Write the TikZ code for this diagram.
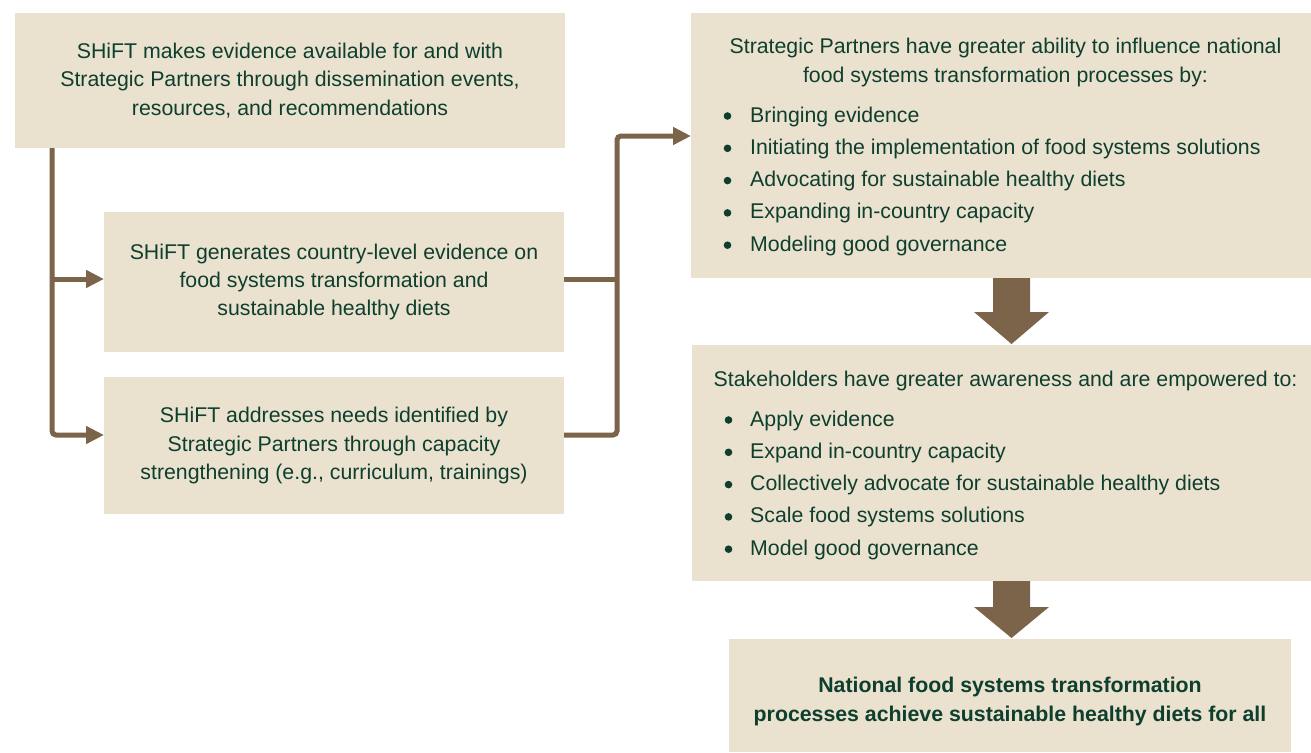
\documentclass[tikz,border=0pt]{standalone}
\usepackage{fontspec}
\setmainfont{Liberation Sans}
\usetikzlibrary{arrows.meta}
\definecolor{boxfill}{HTML}{EBE1CF}
\definecolor{ink}{HTML}{0E3F2E}
\definecolor{arrowbrown}{HTML}{7B6449}
\begin{document}
\begin{tikzpicture}[x=1pt,y=-1pt,
  font=\fontsize{21.3pt}{28.3pt}\selectfont,
  panel/.style={rectangle, fill=boxfill, anchor=north west, inner sep=0pt,
    outer sep=0pt, text=ink, align=center},
  textline/.style={anchor=base, text=ink, inner sep=0pt},
  item/.style={anchor=base west, text=ink, inner sep=0pt},
  dot/.style={circle, fill=ink, inner sep=0pt, minimum size=7.6pt},
  conn/.style={draw=arrowbrown, line width=5pt, rounded corners=4pt},
  tip/.style={-{Triangle[length=18pt,width=17pt]}},
  bigarrow/.style={fill=arrowbrown}
]
\useasboundingbox (0,0) rectangle (1311,752);

% --- boxes on the left ---
\node[panel, minimum width=550pt, minimum height=135pt] (A) at (15,13)
  {SHiFT makes evidence available for and with\\Strategic Partners through dissemination events,\\resources, and recommendations};
\node[panel, minimum width=460pt, minimum height=140pt] (B) at (104,212)
  {SHiFT generates country-level evidence on\\food systems transformation and\\sustainable healthy diets};
\node[panel, minimum width=460pt, minimum height=137pt] (C) at (104,377)
  {SHiFT addresses needs identified by\\Strategic Partners through capacity\\strengthening (e.g., curriculum, trainings)};

% --- boxes on the right ---
\node[panel, minimum width=620pt, minimum height=265pt] (D) at (691,13) {};
\node[panel, minimum width=619pt, minimum height=236pt] (E) at (692,345) {};
\node[panel, minimum width=562pt, minimum height=113pt] (F) at (729,639) {};

% partner outcomes
\node[textline] (d1) at (1005.5,53) {Strategic Partners have greater ability to influence national};
\node[textline] (d2) at (1005.5,82) {food systems transformation processes by:};
\foreach \t [count=\i] in {Bringing evidence,
    Initiating the implementation of food systems solutions,
    Advocating for sustainable healthy diets,
    Expanding in-country capacity,
    Modeling good governance}{
  \node[dot] (db\i) at (727.5,{116+32.3*(\i-1)}) {};
  \node[item] (dt\i) at (750,{122+32.3*(\i-1)}) {\t};
}

% stakeholder outcomes
\node[textline] (e1) at (1005.5,386) {Stakeholders have greater awareness and are empowered to:};
\foreach \t [count=\i] in {Apply evidence,
    Expand in-country capacity,
    Collectively advocate for sustainable healthy diets,
    Scale food systems solutions,
    Model good governance}{
  \node[dot] (eb\i) at (728.5,{420+32.3*(\i-1)}) {};
  \node[item] (et\i) at (750,{426+32.3*(\i-1)}) {\t};
}

% final goal
\node[textline, font=\fontsize{21.3pt}{28.3pt}\selectfont\bfseries] (f1) at (1010,692)
  {National food systems transformation};
\node[textline, font=\fontsize{21.3pt}{28.3pt}\selectfont\bfseries] (f2) at (1010,721)
  {processes achieve sustainable healthy diets for all};

% --- connectors ---
\coordinate (trunk) at ([xshift=37pt]A.south west);
\coordinate (bIn) at ([yshift=3pt]B.west);
\coordinate (cIn) at ([yshift=10.5pt]C.west);
\coordinate (bOut) at ([yshift=3pt]B.east);
\coordinate (cOut) at ([yshift=10.5pt]C.east);
\coordinate (dIn) at ([yshift=9.5pt]D.west);
\coordinate (rx) at ([xshift=53pt]B.east);

\draw[conn, tip] (trunk) |- (cIn);
\draw[conn, tip] (trunk |- bIn) -- (bIn);
\draw[conn] (bOut) -- (rx |- bOut);
\draw[conn, tip] (cOut) -| (rx |- dIn) -- (dIn);

% --- block arrows between outcome boxes ---
\fill[bigarrow] (993,278) -- (1030,278) -- (1030,312) -- (1049,312)
  -- (1011.5,344) -- (974,312) -- (993,312) -- cycle;
\fill[bigarrow] (993,581) -- (1030,581) -- (1030,607) -- (1049,607)
  -- (1011.5,638) -- (974,607) -- (993,607) -- cycle;
\end{tikzpicture}
\end{document}
